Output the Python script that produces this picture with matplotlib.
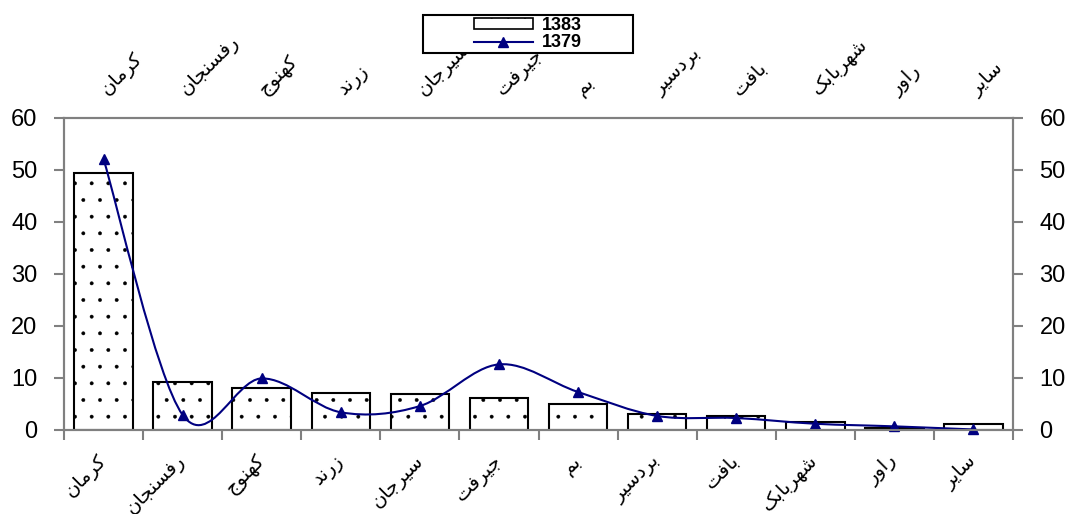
import matplotlib
matplotlib.use("Agg")
import matplotlib.pyplot as plt
from matplotlib.path import Path
from matplotlib.patches import PathPatch, Rectangle
from matplotlib.lines import Line2D
import numpy as np

# data
cities = ["کرمان", "رفسنجان", "کهنوج", "زرند", "سیرجان", "جیرفت",
          "بم", "بردسیر", "بافت", "شهربابک", "راور", "سایر"]
share_1383 = [49.4, 9.2, 8.0, 7.2, 6.9, 6.1, 5.0, 3.1, 2.7, 1.5, 0.3, 1.2]
share_1379 = [52.0, 2.9, 9.9, 3.4, 4.6, 12.6, 7.3, 2.7, 2.3, 1.2, 0.7, 0.1]
yticks = [0, 10, 20, 30, 40, 50, 60]

# presentation forms (isolated, final, initial, medial) so the labels join up
FORMS = {
    'ا': ('\uFE8D', '\uFE8E', None, None),
    'ب': ('\uFE8F', '\uFE90', '\uFE91', '\uFE92'),
    'ت': ('\uFE95', '\uFE96', '\uFE97', '\uFE98'),
    'ج': ('\uFE9D', '\uFE9E', '\uFE9F', '\uFEA0'),
    'د': ('\uFEA9', '\uFEAA', None, None),
    'ر': ('\uFEAD', '\uFEAE', None, None),
    'ز': ('\uFEAF', '\uFEB0', None, None),
    'س': ('\uFEB1', '\uFEB2', '\uFEB3', '\uFEB4'),
    'ش': ('\uFEB5', '\uFEB6', '\uFEB7', '\uFEB8'),
    'ف': ('\uFED1', '\uFED2', '\uFED3', '\uFED4'),
    'م': ('\uFEE1', '\uFEE2', '\uFEE3', '\uFEE4'),
    'ن': ('\uFEE5', '\uFEE6', '\uFEE7', '\uFEE8'),
    'ه': ('\uFEE9', '\uFEEA', '\uFEEB', '\uFEEC'),
    'و': ('\uFEED', '\uFEEE', None, None),
    'ی': ('\uFBFC', '\uFBFD', '\uFBFE', '\uFBFF'),
    'ک': ('\uFB8E', '\uFB8F', '\uFB90', '\uFB91'),
}
RIGHT_ONLY = set('ادذرزو')


def shape(word):
    out = []
    for i, c in enumerate(word):
        prev_j = i > 0 and word[i - 1] in FORMS and word[i - 1] not in RIGHT_ONLY
        next_j = i < len(word) - 1 and c not in RIGHT_ONLY and word[i + 1] in FORMS
        iso, fin, ini, med = FORMS[c]
        if prev_j and next_j:
            out.append(med)
        elif prev_j:
            out.append(fin)
        elif next_j:
            out.append(ini)
        else:
            out.append(iso)
    return ''.join(reversed(out))


labels = [shape(c) for c in cities]

plt.rcParams['font.family'] = ['Liberation Sans', 'DejaVu Sans']
plt.rcParams['hatch.linewidth'] = 0.3
plt.rcParams['hatch.color'] = '#333333'

fig = plt.figure(figsize=(10.69, 5.14), dpi=100)
ax = fig.add_axes([64 / 1069, 1 - 430 / 514, (1013 - 64) / 1069, (430 - 117.5) / 514])

x = np.arange(len(cities))
ax.bar(x, share_1383, width=0.74, color='white', edgecolor='black',
       linewidth=1.5, hatch='.', zorder=2)

# smoothed line (bezier through points, like a spreadsheet's smoothed line)
pts = np.column_stack([x, share_1379]).astype(float)
n = len(pts)
verts = [pts[0]]
codes = [Path.MOVETO]
for i in range(n - 1):
    p0 = pts[i - 1] if i > 0 else pts[i]
    p3 = pts[i + 2] if i + 2 < n else pts[i + 1]
    c1 = pts[i] + (pts[i + 1] - p0) / 6
    c2 = pts[i + 1] - (p3 - pts[i]) / 6
    verts += [c1, c2, pts[i + 1]]
    codes += [Path.CURVE4] * 3
ax.add_patch(PathPatch(Path(verts, codes), facecolor='none', edgecolor='#000080',
                       linewidth=1.5, zorder=3))
ax.plot(x, share_1379, linestyle='None', marker='^', markersize=7,
        color='#000080', zorder=4, clip_on=False)

ax.set_xlim(-0.5, len(cities) - 0.5)
ax.set_ylim(0, 60)
ax.set_yticks(yticks)
ax.tick_params(axis='y', labelsize=17, length=7, width=1.5, color='#808080',
               right=True, labelright=True, pad=12)

ax.set_xticks(np.arange(len(cities) + 1) - 0.5)
ax.set_xticklabels([])
ax.set_xticks(x, minor=True)
ax.set_xticklabels(labels, minor=True, rotation=45, ha='right', va='center',
                   rotation_mode='anchor', family=['DejaVu Sans'], fontsize=14)
ax.tick_params(axis='x', which='major', length=7, width=1.5, color='#808080',
               top=True, direction='out')
ax.tick_params(axis='x', which='minor', length=0, pad=20)

top = ax.twiny()
top.set_xlim(ax.get_xlim())
top.set_xticks([])
top.set_xticks(x, minor=True)
top.set_xticklabels(labels, minor=True, rotation=45, ha='left', va='center',
                    rotation_mode='anchor', family=['DejaVu Sans'], fontsize=14)
top.tick_params(axis='x', which='minor', length=0, pad=18)

for a in (ax, top):
    for s in a.spines.values():
        s.set_color('#808080')
        s.set_linewidth(1.5)

# legend box
fig.patches.append(Rectangle((423 / 1069, 1 - 53 / 514), 210 / 1069, 38 / 514,
                             transform=fig.transFigure, facecolor='white',
                             edgecolor='black', linewidth=1.5, zorder=5))
h1 = Rectangle((0, 0), 1, 1, facecolor='white', edgecolor='black',
               linewidth=1.2, hatch='.')
h2 = Line2D([], [], color='#000080', marker='^', markersize=7, linewidth=1.5)
leg = fig.legend([h1, h2], ['1383', '1379'], loc='center',
                 bbox_to_anchor=(528 / 1069, 1 - 34 / 514), frameon=False,
                 prop={'weight': 'bold', 'size': 13}, handlelength=3.3,
                 handleheight=0.55, labelspacing=0.05, handletextpad=0.5,
                 borderpad=0)
leg.set_zorder(6)

fig.savefig('out.png', dpi=100)
